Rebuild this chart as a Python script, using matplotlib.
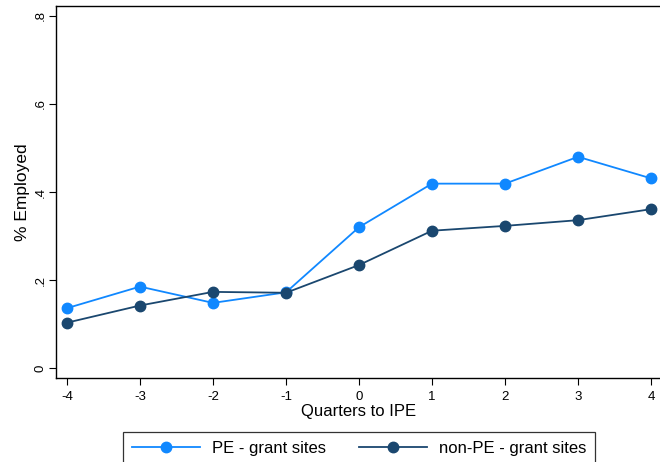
import matplotlib
matplotlib.use("Agg")
import matplotlib.pyplot as plt

plt.rcParams['font.family'] = ['Liberation Sans', 'DejaVu Sans']

quarters = [-4, -3, -2, -1, 0, 1, 2, 3, 4]
pe_grant = [0.136, 0.185, 0.148, 0.172, 0.320, 0.419, 0.419, 0.480, 0.431]
nonpe_grant = [0.103, 0.142, 0.173, 0.171, 0.234, 0.312, 0.323, 0.336, 0.361]
y_ticks = [0, 0.2, 0.4, 0.6, 0.8]
y_ticklabels = ["0", ".2", ".4", ".6", ".8"]
series_labels = ["PE - grant sites", "non-PE - grant sites"]

W, H = 660, 462
fig = plt.figure(figsize=(W / 100, H / 100), dpi=100)
fig.patch.set_facecolor("white")
ax = fig.add_axes([56 / W, (H - 378) / H, 606 / W, 372 / H])

light = "#1088ff"
navy = "#1a476f"
ax.plot(quarters, pe_grant, color=light, lw=1.3, marker="o", ms=7.5,
        label=series_labels[0])
ax.plot(quarters, nonpe_grant, color=navy, lw=1.3, marker="o", ms=7.5,
        label=series_labels[1])

ax.set_xlim(-4.15, 4.15)
ax.set_ylim(-0.0227, 0.8227)
ax.set_xticks(quarters)
ax.set_xticklabels([str(q) for q in quarters], fontsize=9.5)
ax.set_yticks(y_ticks)
ax.set_yticklabels(y_ticklabels, fontsize=9.5, rotation=90, va="center")
ax.tick_params(direction="out", length=5, width=0.8)
ax.tick_params(axis="x", pad=4)
ax.tick_params(axis="y", pad=2)
for s in ax.spines.values():
    s.set_linewidth(1.0)

ax.set_xlabel("Quarters to IPE", fontsize=12, labelpad=1)
ax.set_ylabel("% Employed", fontsize=12.5, labelpad=3)

leg = fig.legend(loc="upper center", bbox_to_anchor=(359 / W, 1 - 424 / H),
                 ncol=2, fontsize=12, frameon=True, fancybox=False,
                 edgecolor="black", handlelength=4.1, columnspacing=2.0,
                 borderpad=0.5, handletextpad=0.7)
leg.get_frame().set_linewidth(0.9)

fig.savefig("out.png", dpi=100, facecolor="white")
